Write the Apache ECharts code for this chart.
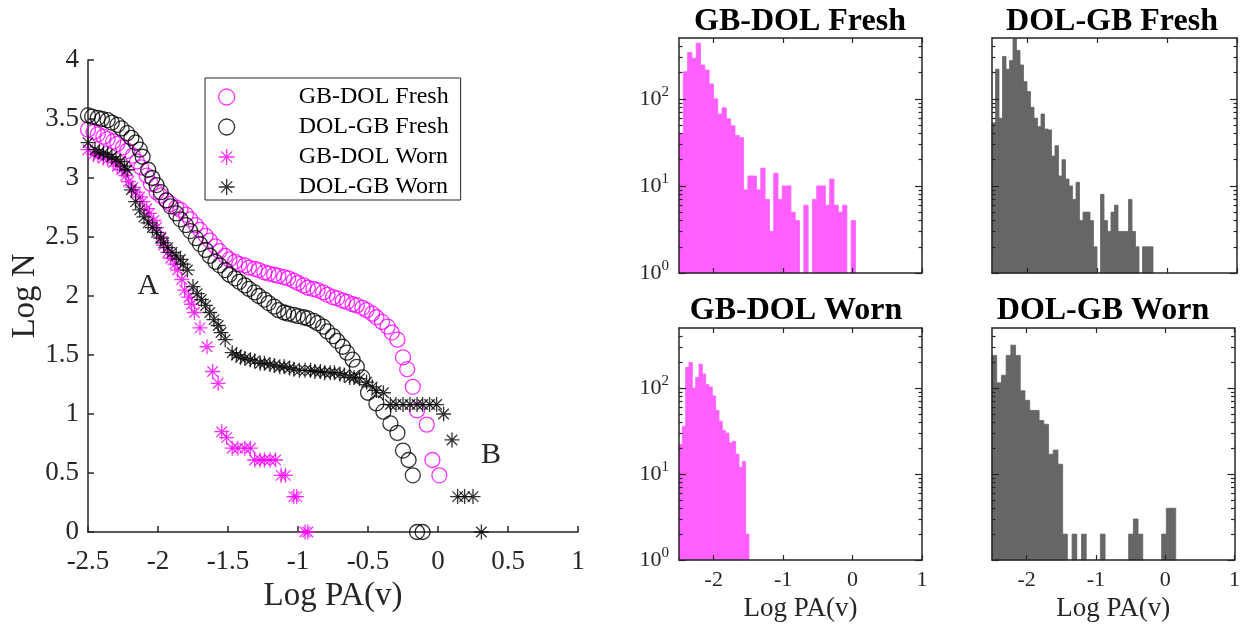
<!DOCTYPE html>
<html>
<head>
<meta charset="utf-8">
<script src="https://cdn.jsdelivr.net/npm/echarts@6.0.0/dist/echarts.min.js"></script>
<style>
  html, body { margin: 0; padding: 0; background: #fff; }
  #chart { width: 1243px; height: 624px; }
</style>
</head>
<body>
<div id="chart"></div>
<script>
// Cumulative distributions: [log PA(v), log N]
const gbDolFresh = [
  [-2.50,3.41],[-2.46,3.39],[-2.43,3.37],[-2.39,3.35],[-2.36,3.33],[-2.32,3.31],[-2.29,3.29],[-2.25,3.26],
  [-2.22,3.23],[-2.18,3.19],[-2.15,3.14],[-2.12,3.09],[-2.08,3.02],[-2.05,2.95],[-2.01,2.88],[-1.98,2.85],
  [-1.94,2.81],[-1.91,2.78],[-1.87,2.75],[-1.84,2.73],[-1.80,2.69],[-1.77,2.65],[-1.73,2.60],[-1.70,2.56],
  [-1.66,2.51],[-1.63,2.47],[-1.59,2.42],[-1.56,2.38],[-1.52,2.34],[-1.49,2.31],[-1.45,2.29],[-1.42,2.27],
  [-1.38,2.26],[-1.35,2.24],[-1.31,2.23],[-1.28,2.22],[-1.24,2.20],[-1.21,2.19],[-1.17,2.18],[-1.14,2.17],
  [-1.10,2.16],[-1.07,2.15],[-1.03,2.13],[-1.00,2.11],[-0.96,2.09],[-0.93,2.07],[-0.89,2.06],[-0.86,2.05],
  [-0.82,2.03],[-0.79,2.01],[-0.75,1.99],[-0.72,1.98],[-0.68,1.96],[-0.65,1.95],[-0.61,1.93],[-0.58,1.92],
  [-0.54,1.90],[-0.51,1.88],[-0.47,1.85],[-0.44,1.82],[-0.40,1.78],[-0.36,1.74],[-0.33,1.69],[-0.29,1.63],
  [-0.25,1.48],[-0.22,1.38],[-0.18,1.23],[-0.15,1.03],[-0.08,0.91],[-0.04,0.61],[0.01,0.48]
];
const dolGbFresh = [
  [-2.50,3.53],[-2.47,3.52],[-2.43,3.51],[-2.40,3.50],[-2.36,3.49],[-2.33,3.47],[-2.29,3.45],[-2.26,3.42],
  [-2.22,3.38],[-2.19,3.34],[-2.16,3.30],[-2.13,3.24],[-2.11,3.18],[-2.07,3.07],[-2.04,3.00],[-2.01,2.94],
  [-1.98,2.88],[-1.94,2.81],[-1.91,2.76],[-1.87,2.70],[-1.84,2.65],[-1.80,2.60],[-1.77,2.55],[-1.73,2.49],
  [-1.70,2.44],[-1.66,2.39],[-1.63,2.34],[-1.59,2.29],[-1.56,2.26],[-1.52,2.22],[-1.49,2.18],[-1.45,2.15],
  [-1.42,2.12],[-1.38,2.09],[-1.35,2.06],[-1.31,2.03],[-1.28,2.00],[-1.24,1.97],[-1.21,1.94],[-1.17,1.91],
  [-1.14,1.88],[-1.10,1.86],[-1.07,1.85],[-1.03,1.84],[-1.00,1.83],[-0.96,1.82],[-0.93,1.81],[-0.89,1.79],
  [-0.86,1.77],[-0.82,1.74],[-0.79,1.70],[-0.75,1.66],[-0.72,1.62],[-0.68,1.57],[-0.65,1.52],[-0.61,1.46],
  [-0.58,1.40],[-0.54,1.31],[-0.50,1.18],[-0.44,1.09],[-0.39,1.02],[-0.34,0.92],[-0.29,0.84],[-0.25,0.69],
  [-0.21,0.61],[-0.18,0.48],[-0.15,0],[-0.11,0]
];
const gbDolWorn = [
  [-2.50,3.24],[-2.46,3.20],[-2.43,3.19],[-2.39,3.17],[-2.36,3.16],[-2.32,3.13],[-2.29,3.10],[-2.26,3.07],
  [-2.23,3.02],[-2.21,2.97],[-2.18,2.92],[-2.16,2.88],[-2.13,2.84],[-2.11,2.80],[-2.08,2.74],[-2.06,2.70],
  [-2.03,2.64],[-2.01,2.58],[-1.98,2.50],[-1.96,2.43],[-1.93,2.37],[-1.91,2.32],[-1.88,2.27],[-1.86,2.22],
  [-1.83,2.14],[-1.81,2.05],[-1.78,1.99],[-1.76,1.93],[-1.74,1.86],[-1.70,1.73],[-1.65,1.57],[-1.61,1.36],
  [-1.57,1.26],[-1.545,0.85],[-1.51,0.80],[-1.47,0.71],[-1.43,0.71],[-1.38,0.71],[-1.34,0.71],[-1.31,0.61],
  [-1.27,0.61],[-1.24,0.61],[-1.20,0.61],[-1.16,0.61],[-1.12,0.48],[-1.09,0.48],[-1.03,0.30],[-1.01,0.30],
  [-0.95,0],[-0.93,0]
];
const dolGbWorn = [
  [-2.50,3.30],[-2.45,3.24],[-2.42,3.22],[-2.39,3.21],[-2.36,3.20],[-2.33,3.18],[-2.30,3.16],[-2.27,3.14],
  [-2.24,3.10],[-2.22,3.07],[-2.19,2.90],[-2.16,2.80],[-2.13,2.73],[-2.10,2.67],[-2.07,2.62],[-2.04,2.58],
  [-2.01,2.54],[-1.98,2.49],[-1.96,2.45],[-1.93,2.41],[-1.90,2.37],[-1.87,2.34],[-1.84,2.31],[-1.82,2.27],
  [-1.79,2.22],[-1.75,2.08],[-1.72,2.02],[-1.69,1.97],[-1.66,1.92],[-1.63,1.86],[-1.60,1.80],[-1.57,1.75],
  [-1.55,1.69],[-1.52,1.63],[-1.47,1.52],[-1.44,1.50],[-1.41,1.48],[-1.38,1.47],[-1.34,1.46],[-1.31,1.45],
  [-1.27,1.43],[-1.24,1.43],[-1.20,1.42],[-1.17,1.41],[-1.13,1.40],[-1.10,1.40],[-1.06,1.39],[-1.03,1.38],
  [-0.99,1.37],[-0.95,1.37],[-0.91,1.37],[-0.88,1.36],[-0.84,1.36],[-0.81,1.35],[-0.77,1.35],[-0.74,1.35],
  [-0.70,1.34],[-0.67,1.33],[-0.63,1.31],[-0.60,1.31],[-0.56,1.30],[-0.51,1.27],[-0.47,1.23],[-0.44,1.20],
  [-0.39,1.18],[-0.34,1.08],[-0.30,1.08],[-0.25,1.08],[-0.20,1.08],[-0.15,1.08],[-0.11,1.08],[-0.06,1.08],
  [-0.01,1.08],[0.04,1.00],[0.10,0.78],[0.14,0.30],[0.19,0.30],[0.25,0.30],[0.31,0]
];

// Histogram counts per bin (log PA(v) bins)
const gbDolFreshBinStart = -2.5, gbDolFreshBinWidth = 0.062;
const gbDolFreshCounts = [40,205,340,293,436,245,214,148,100,67,79,59,49,38,36,9,13,13,9,16,7,3,14,7,10,10,5,4,0,6,0,7,10,10,6,12,6,5,6,0,4];
const dolGbFreshBinStart = -2.5, dolGbFreshBinWidth = 0.05;
const dolGbFreshCounts = [53,219,60,307,219,275,487,360,245,158,121,80,60,48,67,45,44,22,29,13,20,12,10,7,11,4,5,5,4,2,0,8,4,3,5,6,3,3,3,7,3,2,0,2,2,2];
const gbDolWornBinStart = -2.5, gbDolWornBinWidth = 0.048;
const gbDolWornCounts = [22,36,174,199,100,133,190,146,110,103,81,55,41,32,30,23,24,17,12,14,2];
const dolGbWornBinStart = -2.5, dolGbWornBinWidth = 0.068;
const dolGbWornCounts = [240,115,141,240,316,240,93,72,55,55,42,38,17,19,13,2,0,2,0,2,0,0,0,2,0,0,0,0,0,2,3,2,0,0,0,0,2,4,4];

const histXTicks = [-2, -1, 0, 1];
const logMajor = [1, 10, 100];
const logMinor = [2,3,4,5,6,7,8,9,20,30,40,50,60,70,80,90,200,300,400];

const SERIF = '"Liberation Serif", "Times New Roman", serif';
const AXIS = '#262626';
const MAGENTA = '#ff00ff';
const PINK = '#ff5fff';
const GREY = '#666666';
const ASTERISK = 'path://M10,0L10,20M0,10L20,10M3,3L17,17M3,17L17,3';

function bins(start, width, counts) {
  return counts.map((c, i) => [start + i * width, start + (i + 1) * width, c]);
}

// one filled rectangle per bin, from 10^0 up to the bin count
function renderBar(params, api) {
  const n = api.value(2);
  if (!(n > 1)) return null;
  const tl = api.coord([api.value(0), n]);
  const br = api.coord([api.value(1), 1]);
  const c = api.visual('color');
  return {
    type: 'rect',
    shape: { x: tl[0], y: tl[1], width: br[0] - tl[0], height: br[1] - tl[1] },
    style: { fill: c, stroke: c, lineWidth: 0.8 }
  };
}

const grids = [
  { left: 88, top: 60, width: 490, height: 472 },
  { left: 679, top: 38, width: 243, height: 235 },
  { left: 992, top: 38, width: 245, height: 235 },
  { left: 679, top: 328, width: 243, height: 232 },
  { left: 992, top: 328, width: 245, height: 232 }
];

const xAxes = [{
  type: 'value', gridIndex: 0, min: -2.5, max: 1, interval: 0.5,
  axisLine: { show: true, onZero: false, lineStyle: { color: AXIS, width: 1.5 } },
  axisTick: { show: true, inside: true, length: 6, lineStyle: { color: AXIS, width: 1.5 } },
  splitLine: { show: false },
  axisLabel: { color: AXIS, fontFamily: SERIF, fontSize: 27, margin: 16 },
  name: 'Log PA(v)', nameLocation: 'middle', nameGap: 45,
  nameTextStyle: { color: AXIS, fontFamily: SERIF, fontSize: 33 }
}];
const yAxes = [{
  type: 'value', gridIndex: 0, min: 0, max: 4, interval: 0.5,
  axisLine: { show: true, onZero: false, lineStyle: { color: AXIS, width: 1.5 } },
  axisTick: { show: true, inside: true, length: 6, lineStyle: { color: AXIS, width: 1.5 } },
  splitLine: { show: false },
  axisLabel: { color: AXIS, fontFamily: SERIF, fontSize: 27, margin: 9 },
  name: 'Log N', nameLocation: 'middle', nameGap: 39, nameRotate: 90,
  nameTextStyle: { color: AXIS, fontFamily: SERIF, fontSize: 33 }
}];

function histXAxis(g, pos, labels) {
  return {
    type: 'value', gridIndex: g, position: pos, min: -2.5, max: 1, z: 5,
    axisLine: { show: true, onZero: false, lineStyle: { color: AXIS, width: 1.5 } },
    axisTick: { show: true, inside: true, length: 5, customValues: histXTicks, lineStyle: { color: AXIS, width: 1.2 } },
    splitLine: { show: false },
    axisLabel: { show: labels, customValues: histXTicks, color: AXIS, fontFamily: SERIF, fontSize: 22, margin: 9 },
    name: labels ? 'Log PA(v)' : '', nameLocation: 'middle', nameGap: 35,
    nameTextStyle: { color: AXIS, fontFamily: SERIF, fontSize: 27 }
  };
}
function histYAxis(g, pos, values, len, labels, line) {
  return {
    type: 'log', logBase: 10, gridIndex: g, position: pos, min: 1, max: 500, z: 5,
    axisLine: { show: line, onZero: false, lineStyle: { color: AXIS, width: 1.5 } },
    axisTick: { show: true, inside: true, length: len, customValues: values, lineStyle: { color: AXIS, width: 1.2 } },
    splitLine: { show: false },
    axisLabel: {
      show: labels, customValues: values, margin: 10, color: AXIS,
      formatter: v => '{b|10}{s|' + Math.round(Math.log10(v)) + '}',
      rich: {
        b: { fontFamily: SERIF, fontSize: 22, color: AXIS },
        s: { fontFamily: SERIF, fontSize: 15, color: AXIS, padding: [0, 0, 14, 0] }
      }
    }
  };
}

const histDefs = [
  { g: 1, bottomLabels: false, leftLabels: true },
  { g: 2, bottomLabels: false, leftLabels: false },
  { g: 3, bottomLabels: true, leftLabels: true },
  { g: 4, bottomLabels: true, leftLabels: false }
];
histDefs.forEach(d => {
  d.xIndex = xAxes.length;
  xAxes.push(histXAxis(d.g, 'bottom', d.bottomLabels));
  xAxes.push(histXAxis(d.g, 'top', false));
  d.yIndex = yAxes.length;
  yAxes.push(histYAxis(d.g, 'left', logMajor, 7, d.leftLabels, true));
  yAxes.push(histYAxis(d.g, 'left', logMinor, 3.5, false, false));
  yAxes.push(histYAxis(d.g, 'right', logMajor, 7, false, true));
  yAxes.push(histYAxis(d.g, 'right', logMinor, 3.5, false, false));
});

function scatter(name, data, symbol, size, color) {
  return {
    type: 'scatter', name, data, symbol, symbolSize: size, clip: false,
    xAxisIndex: 0, yAxisIndex: 0,
    itemStyle: { color: 'rgba(0,0,0,0)', borderColor: color, borderWidth: 1.3 },
    emphasis: { disabled: true }
  };
}
function hist(d, data, color) {
  return {
    type: 'custom', renderItem: renderBar, data,
    xAxisIndex: d.xIndex, yAxisIndex: d.yIndex,
    encode: { x: [0, 1], y: 2 },
    itemStyle: { color }, silent: true
  };
}

const titleFont = 'bold 32px "Liberation Serif", "Times New Roman", serif';
const option = {
  backgroundColor: '#fff',
  animation: false,
  grid: grids,
  xAxis: xAxes,
  yAxis: yAxes,
  legend: {
    data: ['GB-DOL Fresh', 'DOL-GB Fresh', 'GB-DOL Worn', 'DOL-GB Worn'],
    orient: 'vertical', left: 205, top: 78,
    padding: [7, 12, 1, 13], itemWidth: 16, itemHeight: 16, itemGap: 6,
    borderColor: AXIS, borderWidth: 1, backgroundColor: '#fff',
    itemStyle: { borderWidth: 1.3 },
    textStyle: { fontFamily: SERIF, fontSize: 24, color: '#000', lineHeight: 22, padding: [0, 0, 0, 59] }
  },
  graphic: [
    { type: 'text', x: 800, y: 22, style: { text: 'GB-DOL Fresh', font: titleFont, fill: '#000', textAlign: 'center', textVerticalAlign: 'middle' } },
    { type: 'text', x: 1112, y: 22, style: { text: 'DOL-GB Fresh', font: titleFont, fill: '#000', textAlign: 'center', textVerticalAlign: 'middle' } },
    { type: 'text', x: 796, y: 311, style: { text: 'GB-DOL Worn', font: titleFont, fill: '#000', textAlign: 'center', textVerticalAlign: 'middle' } },
    { type: 'text', x: 1103, y: 311, style: { text: 'DOL-GB Worn', font: titleFont, fill: '#000', textAlign: 'center', textVerticalAlign: 'middle' } },
    { type: 'text', x: 148, y: 286, style: { text: 'A', font: '30px "Liberation Serif", serif', fill: AXIS, textAlign: 'center', textVerticalAlign: 'middle' } },
    { type: 'text', x: 491, y: 455, style: { text: 'B', font: '30px "Liberation Serif", serif', fill: AXIS, textAlign: 'center', textVerticalAlign: 'middle' } }
  ],
  series: [
    scatter('GB-DOL Fresh', gbDolFresh, 'circle', 15, MAGENTA),
    scatter('DOL-GB Fresh', dolGbFresh, 'circle', 15, '#000'),
    scatter('GB-DOL Worn', gbDolWorn, ASTERISK, 15, MAGENTA),
    scatter('DOL-GB Worn', dolGbWorn, ASTERISK, 15, '#000'),
    hist(histDefs[0], bins(gbDolFreshBinStart, gbDolFreshBinWidth, gbDolFreshCounts), PINK),
    hist(histDefs[1], bins(dolGbFreshBinStart, dolGbFreshBinWidth, dolGbFreshCounts), GREY),
    hist(histDefs[2], bins(gbDolWornBinStart, gbDolWornBinWidth, gbDolWornCounts), PINK),
    hist(histDefs[3], bins(dolGbWornBinStart, dolGbWornBinWidth, dolGbWornCounts), GREY)
  ]
};

const chart = echarts.init(document.getElementById('chart'), null, { renderer: 'canvas' });
chart.setOption(option);
</script>
</body>
</html>
